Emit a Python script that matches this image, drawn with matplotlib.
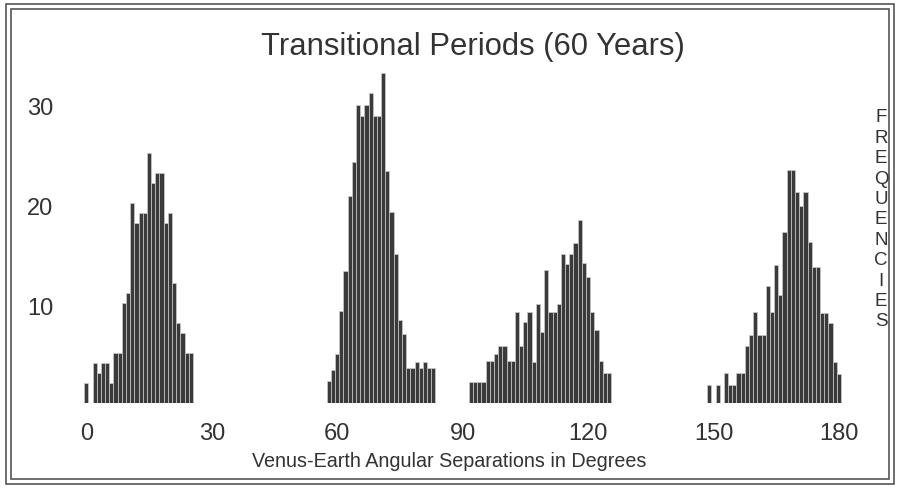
import matplotlib

matplotlib.use("Agg")
import matplotlib.pyplot as plt
import matplotlib.transforms as mtransforms
from matplotlib.patches import Rectangle

plt.rcParams["font.family"] = ["Liberation Sans", "DejaVu Sans"]

# frequencies per 1-degree bin (cluster start degree + counts)
start_a = 0
counts_a = [2, 0, 4, 3, 4, 4, 2, 5, 5, 10, 11, 20, 18, 19, 19, 25, 22, 23, 23,
            18, 19, 12, 8, 7, 5, 5]
start_b = 58
counts_b = [2.2, 3.3, 4.9, 9.2, 13.2, 20.7, 24.1, 29.8, 28.7, 29.8, 31, 28.7,
            28.7, 33, 23.2, 19.1, 14.9, 8.3, 6.9, 3.5, 3.5, 4.1, 3.5, 4.1, 3.5, 3.5]
start_c = 92
counts_c = [2.1, 2.1, 2.1, 2.1, 4.2, 4.2, 4.9, 5.7, 5.7, 4.2, 4.2, 9.1, 5.7, 8.1,
            9.1, 4.1, 9.9, 7.1, 13.3, 9.1, 9.1, 9.9, 14.9, 13.9, 14.9, 16, 18.3,
            14, 12.6, 9.1, 7.3, 4.2, 3, 3]
start_d = 149
counts_d = [1.8, 0, 1.8, 0, 3.0, 1.8, 1.8, 3.0, 3.0, 5.7, 6.8, 9.1, 6.8, 6.8,
            11.7, 9.1, 13.8, 10.8, 17.1, 23.3, 23.3, 21.1, 19.7, 21.1, 16.1, 13.6,
            13.6, 9, 9, 8, 4.1, 2.9]

x_ticks = [0, 30, 60, 90, 120, 150, 180]
y_ticks = [10, 20, 30]
title = "Transitional Periods (60 Years)"
x_label = "Venus-Earth Angular Separations in Degrees"
side_label = "FREQUENCIES"

BAR = "#3a3a3a"
TXT = "#333333"

degrees, counts = [], []
for start, vals in [(start_a, counts_a), (start_b, counts_b),
                    (start_c, counts_c), (start_d, counts_d)]:
    for i, v in enumerate(vals):
        if v > 0:
            degrees.append(start + i)
            counts.append(v)

W, H = 900, 489
fig = plt.figure(figsize=(W / 100, H / 100), dpi=100)

# axes placed in pixels: x 60..860, y 60..404 from top
ax = fig.add_axes([60 / W, 1 - 404 / H, 800 / W, 344 / H])
ax.bar(degrees, counts, width=1.0, color=BAR, edgecolor="#cccccc", linewidth=0.5)
ax.set_xlim(-6.29, 185.04)
ax.set_ylim(0, 34.4)
for s in ax.spines.values():
    s.set_visible(False)
ax.set_xticks(x_ticks)
ax.set_yticks(y_ticks)
ax.tick_params(axis="x", length=0, pad=14, labelsize=17, labelcolor=TXT)
ax.tick_params(axis="y", length=0, pad=5, labelsize=17, labelcolor=TXT)
# y labels sit a touch below their ticks in the original
shift = mtransforms.ScaledTranslation(0, -2.5 / 100, fig.dpi_scale_trans)
for lab in ax.get_yticklabels():
    lab.set_transform(lab.get_transform() + shift)

fig.text(473 / W, 1 - 47 / H, title, ha="center", va="center", fontsize=22.3,
         color=TXT)
fig.text(449 / W, 1 - 462 / H, x_label, ha="center", va="center", fontsize=14.2,
         color=TXT)
for i, ch in enumerate(side_label):
    fig.text(881 / W, 1 - (118 + i * 20.4) / H, ch, ha="center", va="center",
             fontsize=13.5, color=TXT)

# double frame
fig.patches.append(Rectangle((6 / W, 4 / H), 888 / W, 480 / H, transform=fig.transFigure,
                             fill=False, edgecolor="#555555", lw=1.2))
fig.patches.append(Rectangle((11 / W, 9 / H), 878 / W, 470 / H, transform=fig.transFigure,
                             fill=False, edgecolor="#555555", lw=1.2))

fig.savefig("out.png", dpi=100)
